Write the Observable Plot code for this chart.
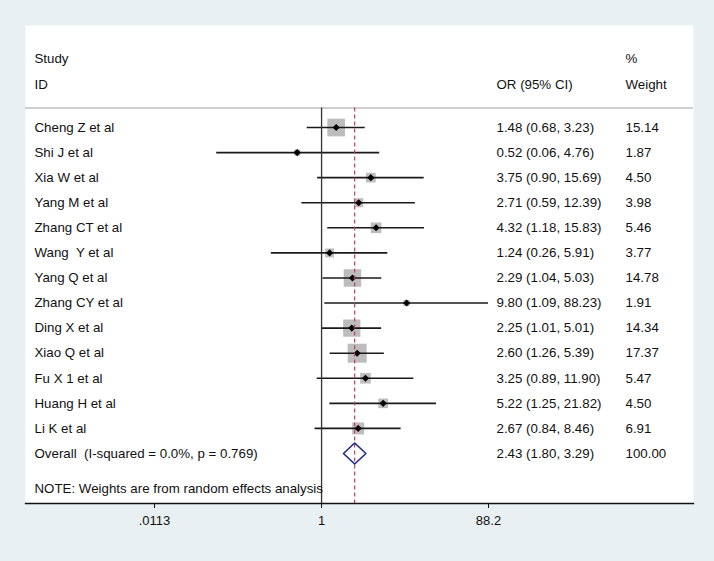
<!DOCTYPE html>
<html>
<head>
<meta charset="utf-8">
<script src="https://cdn.jsdelivr.net/npm/d3@7"></script>
<script src="https://cdn.jsdelivr.net/npm/@observablehq/plot@0.6"></script>
<style>
  html, body { margin: 0; padding: 0; background: #e8f0f2; }
  svg text { white-space: pre; }
</style>
</head>
<body>
<div id="chart"></div>
<script>
// ---- data ----
const studies = ["Cheng Z et al", "Shi J et al", "Xia W et al", "Yang M et al", "Zhang CT et al",
  "Wang  Y et al", "Yang Q et al", "Zhang CY et al", "Ding X et al", "Xiao Q et al",
  "Fu X 1 et al", "Huang H et al", "Li K et al"];
const oddsRatio = [1.48, 0.52, 3.75, 2.71, 4.32, 1.24, 2.29, 9.80, 2.25, 2.60, 3.25, 5.22, 2.67];
const ciLow  = [0.68, 0.06, 0.90, 0.59, 1.18, 0.26, 1.04, 1.09, 1.01, 1.26, 0.89, 1.25, 0.84];
const ciHigh = [3.23, 4.76, 15.69, 12.39, 15.83, 5.91, 5.03, 88.23, 5.01, 5.39, 11.90, 21.82, 8.46];
const weights = [15.14, 1.87, 4.50, 3.98, 5.46, 3.77, 14.78, 1.91, 14.34, 17.37, 5.47, 4.50, 6.91];

const overallLabel = "Overall  (I-squared = 0.0%, p = 0.769)";
const overallOR = 2.43, overallLow = 1.80, overallHigh = 3.29, overallWeight = 100.00;

const tickValues = [0.0113, 1, 88.2];
const tickLabels = [".0113", "1", "88.2"];

const headerTop = ["Study", "", "%"];
const headerBottom = ["ID", "OR (95% CI)", "Weight"];
const noteText = "NOTE: Weights are from random effects analysis";

// ---- table built from arrays ----
const fmt = v => v.toFixed(2);
const rows = studies.map((s, i) => ({
  i, study: s, or: oddsRatio[i], lo: ciLow[i], hi: ciHigh[i], w: weights[i],
  ci: `${fmt(oddsRatio[i])} (${fmt(ciLow[i])}, ${fmt(ciHigh[i])})`,
  wt: fmt(weights[i])
}));
const overallRow = {
  i: studies.length, study: overallLabel, or: overallOR, lo: overallLow, hi: overallHigh,
  ci: `${fmt(overallOR)} (${fmt(overallLow)}, ${fmt(overallHigh)})`, wt: fmt(overallWeight)
};
const allRows = [...rows, overallRow];
const ticks = tickValues.map((v, i) => ({v, label: tickLabels[i]}));

const halfH = 0.42;
const diamond = [
  {x: overallRow.lo, y: overallRow.i},
  {x: overallRow.or, y: overallRow.i - halfH},
  {x: overallRow.hi, y: overallRow.i},
  {x: overallRow.or, y: overallRow.i + halfH},
  {x: overallRow.lo, y: overallRow.i}
];

const sepY = -0.78;   // separator below header (row units)
const bottomY = 15;   // bottom of panel (row units)

const colStudy = 9, colCI = 471, colWt = 600; // offsets from panel left
const textStyle = {fill: "#111", fontSize: 13.3};

const chart = Plot.plot({
  width: 714,
  height: 561,
  marginTop: 25,
  marginBottom: 58,
  marginLeft: 25,
  marginRight: 21,
  style: {background: "#e8f0f2", fontFamily: "'Liberation Sans', Arial, sans-serif", fontSize: "13px", color: "#111"},
  x: {type: "log", domain: [0.0113, 88.2], range: [154, 488]},
  y: {domain: [0, 13], range: [127, 453], axis: null},
  r: {type: "sqrt", domain: [0, 100], range: [0, 25.67]},
  marks: [
    Plot.frame({fill: "white", stroke: null}),
    Plot.ruleY([sepY], {stroke: "#cfcfcf", strokeWidth: 2}),
    Plot.dot(rows, {x: "or", y: "i", r: "w", symbol: "square", fill: "#bdbdbd", stroke: null}),
    Plot.ruleY(rows, {y: "i", x1: "lo", x2: "hi", stroke: "#1a1a1a", strokeWidth: 1.6}),
    Plot.dot(rows, {x: "or", y: "i", r: 3.2, symbol: "diamond2", fill: "#000", stroke: null}),
    Plot.ruleX([1], {y1: () => sepY, y2: () => bottomY, stroke: "#333", strokeWidth: 1.3}),
    Plot.ruleX([overallOR], {y1: () => sepY, y2: () => bottomY, stroke: "#c0405a", strokeWidth: 1.2, strokeDasharray: "4,3"}),
    Plot.line(diamond, {x: "x", y: "y", stroke: "#1f2a85", strokeWidth: 1.6, curve: "linear"}),
    // table text
    Plot.text(allRows, {y: "i", text: "study", frameAnchor: "left", dx: colStudy, textAnchor: "start", ...textStyle}),
    Plot.text(allRows, {y: "i", text: "ci", frameAnchor: "left", dx: colCI, textAnchor: "start", ...textStyle}),
    Plot.text(allRows, {y: "i", text: "wt", frameAnchor: "left", dx: colWt, textAnchor: "start", ...textStyle}),
    // headers
    Plot.text([headerTop[0]], {frameAnchor: "top-left", dx: colStudy, dy: 28, textAnchor: "start", ...textStyle}),
    Plot.text([headerTop[2]], {frameAnchor: "top-left", dx: colWt, dy: 28, textAnchor: "start", ...textStyle}),
    Plot.text([headerBottom[0]], {frameAnchor: "top-left", dx: colStudy, dy: 54, textAnchor: "start", ...textStyle}),
    Plot.text([headerBottom[1]], {frameAnchor: "top-left", dx: colCI, dy: 54, textAnchor: "start", ...textStyle}),
    Plot.text([headerBottom[2]], {frameAnchor: "top-left", dx: colWt, dy: 54, textAnchor: "start", ...textStyle}),
    Plot.text([noteText], {frameAnchor: "bottom-left", dx: colStudy, dy: -11, textAnchor: "start", ...textStyle}),
    // axis
    Plot.frame({anchor: "bottom", stroke: "#111", strokeWidth: 1.3}),
    Plot.axisX({anchor: "bottom", ticks: tickValues, tickFormat: () => "", tickSize: 5, stroke: "#111"}),
    Plot.text(ticks, {x: "v", text: "label", frameAnchor: "bottom", dy: 21, fill: "#111", fontSize: 13})
  ]
});
document.getElementById("chart").appendChild(chart);
</script>
</body>
</html>
